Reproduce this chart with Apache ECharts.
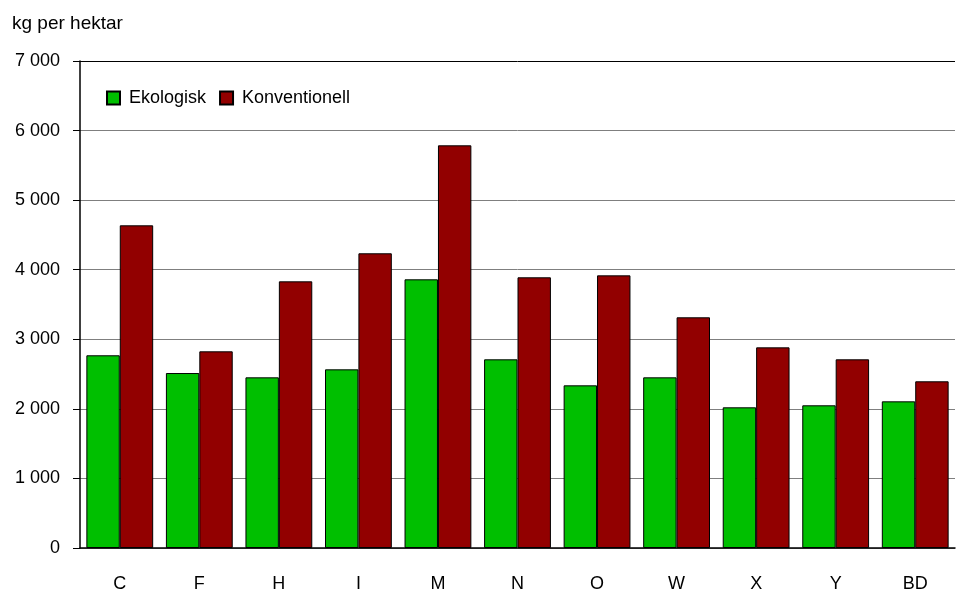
<!DOCTYPE html>
<html><head><meta charset="utf-8">
<script src="https://cdn.jsdelivr.net/npm/echarts@6/dist/echarts.min.js"></script>
<style>html,body{margin:0;padding:0;background:#fff}#c{width:961px;height:591px}</style>
</head><body><div id="c"></div>
<script>
var categories = ['C','F','H','I','M','N','O','W','X','Y','BD'];
var ekologisk = [2770,2515,2453,2568,3862,2712,2338,2453,2022,2051,2108];
var konventionell = [4638,2827,3833,4236,5788,3891,3919,3316,2884,2712,2396];
var seriesNames = ['Ekologisk','Konventionell'];
var yTitle = 'kg per hektar';

var font = 'Liberation Sans, Arial, sans-serif';
var chart = echarts.init(document.getElementById('c'), null, {renderer:'canvas'});
chart.setOption({
  animation:false,
  backgroundColor:'#fff',
  title:{text:yTitle,left:12,top:14,padding:0,textStyle:{fontFamily:font,fontSize:19,fontWeight:'normal',color:'#000'}},
  legend:{
    left:106, top:89, padding:0, itemWidth:13, itemHeight:13, itemGap:13, icon:'rect',
    data:seriesNames,
    textStyle:{fontFamily:font,fontSize:18,color:'#000',padding:[0,0,0,4]}
  },
  grid:{left:80,right:6,top:61,bottom:43,containLabel:false,outerBoundsMode:'none'},
  xAxis:{
    type:'category', data:categories,
    axisLine:{lineStyle:{color:'#000',width:1.5}},
    axisTick:{show:false},
    axisLabel:{fontFamily:font,fontSize:18,color:'#000',margin:27}
  },
  yAxis:{
    type:'value', min:0, max:7000, interval:1000,
    axisLine:{show:true,lineStyle:{color:'#000',width:1.5}},
    axisTick:{show:true,inside:false,length:7,lineStyle:{color:'#000'}},
    axisLabel:{fontFamily:font,fontSize:18,color:'#000',margin:20,
      formatter:function(v){return String(v).replace(/\B(?=(\d{3})+(?!\d))/g,' ');}},
    splitLine:{show:true,lineStyle:{color:['#7f7f7f','#7f7f7f','#7f7f7f','#7f7f7f','#7f7f7f','#7f7f7f','#7f7f7f','#000'],width:1}}
  },
  series:[
    {name:seriesNames[0],type:'bar',data:ekologisk,barGap:'0%',barCategoryGap:'16%',
     itemStyle:{color:'#00bf00',borderColor:'#000',borderWidth:1}},
    {name:seriesNames[1],type:'bar',data:konventionell,barGap:'0%',barCategoryGap:'16%',
     itemStyle:{color:'#920000',borderColor:'#000',borderWidth:1}}
  ]
});
</script></body></html>
